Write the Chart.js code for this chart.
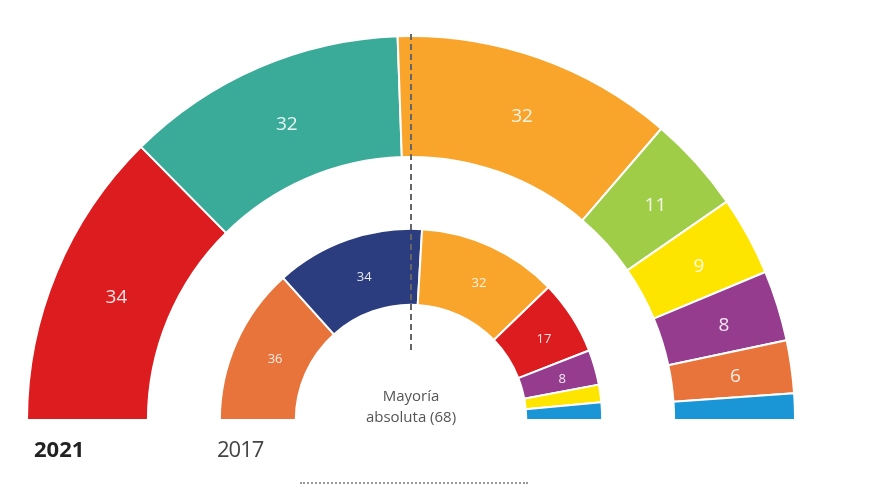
<!DOCTYPE html>
<html>
<head>
<meta charset="utf-8">
<script src="https://cdn.jsdelivr.net/npm/chart.js@4/dist/chart.umd.min.js"></script>
<style>
  html, body { margin: 0; padding: 0; background: #fff; }
  #wrap { position: relative; width: 880px; height: 495px; }
  #hemi { position: absolute; left: 0; top: 0; }
  .txt { position: absolute; font-family: "Open Sans", sans-serif; }
  #y21 { left: 34px; top: 433px; font-size: 22px; font-weight: 700; color: #222; }
  #y17 { left: 217px; top: 433px; font-size: 22px; color: #444; letter-spacing: -1px; }
  #mayoria { left: 311px; top: 385px; width: 200px; text-align: center; font-size: 15px; line-height: 21px; color: #555; }
  #dots { position: absolute; left: 300px; top: 482px; width: 228px; border-top: 2px dotted #999; }
</style>
</head>
<body>
<div id="wrap">
  <canvas id="hemi" width="880" height="495"></canvas>
  <div class="txt" id="y21">2021</div>
  <div class="txt" id="y17">2017</div>
  <div class="txt" id="mayoria">Mayoría<br>absoluta (68)</div>
  <div id="dots"></div>
</div>
<script>
// escaños 2021 (anillo exterior)
var partidos2021 = ['PSC', 'ERC', 'JxCat', 'Vox', 'CUP', 'ECP', 'Cs', 'PP'];
var escanos2021  = [34, 32, 32, 11, 9, 8, 6, 3];
var colores2021  = ['#dc1c1f', '#3aaa99', '#f9a52c', '#9fcd48', '#fde500', '#953c8e', '#e8743b', '#1a95d6'];

// escaños 2017 (anillo interior)
var partidos2017 = ['Cs', 'JxCat', 'ERC', 'PSC', 'CatComú', 'CUP', 'PP'];
var escanos2017  = [36, 34, 32, 17, 8, 4, 4];
var colores2017  = ['#e8743b', '#2b3d7e', '#f9a52c', '#dc1c1f', '#953c8e', '#fde500', '#1a95d6'];

var minEtiqueta = [6, 8]; // no se rotulan los partidos pequeños

var ctx = document.getElementById('hemi').getContext('2d');

var etiquetas = {
  id: 'etiquetas',
  afterDatasetsDraw: function (chart) {
    var c = chart.ctx;
    var meta0 = chart.getDatasetMeta(0);
    var arc0 = meta0.data[0];

    // línea de mayoría absoluta
    c.save();
    c.strokeStyle = '#666';
    c.lineWidth = 2;
    c.setLineDash([6, 4]);
    c.beginPath();
    c.moveTo(arc0.x, arc0.y - arc0.outerRadius - 2);
    c.lineTo(arc0.x, 353);
    c.stroke();
    c.restore();

    // cifras dentro de cada sector
    [[0, 19], [2, 13]].forEach(function (d, k) {
      var meta = chart.getDatasetMeta(d[0]);
      var datos = chart.data.datasets[d[0]].data;
      meta.data.forEach(function (arc, i) {
        if (datos[i] < minEtiqueta[k]) return;
        var p = arc.tooltipPosition();
        c.save();
        c.fillStyle = 'rgba(255,255,255,0.88)';
        c.font = d[1] + 'px "Open Sans", sans-serif';
        c.textAlign = 'center';
        c.textBaseline = 'middle';
        c.fillText(datos[i], p.x + 4, p.y + 2);
        c.restore();
      });
    });
  }
};

new Chart(ctx, {
  type: 'doughnut',
  data: {
    labels: partidos2021,
    datasets: [
      {
        label: '2021',
        data: escanos2021,
        backgroundColor: colores2021,
        borderColor: '#fff',
        borderWidth: 2,
        weight: 121
      },
      {
        label: 'hueco',
        data: [135],
        backgroundColor: 'rgba(0,0,0,0)',
        borderWidth: 0,
        weight: 72
      },
      {
        label: '2017',
        data: escanos2017,
        backgroundColor: colores2017,
        borderColor: '#fff',
        borderWidth: 2,
        weight: 76
      }
    ]
  },
  options: {
    responsive: false,
    animation: false,
    rotation: -90,
    circumference: 180,
    cutout: '30%',
    layout: { padding: { left: 26, right: 84, top: 33, bottom: 72 } },
    plugins: {
      legend: { display: false },
      tooltip: { enabled: false }
    }
  },
  plugins: [etiquetas]
});
</script>
</body>
</html>
